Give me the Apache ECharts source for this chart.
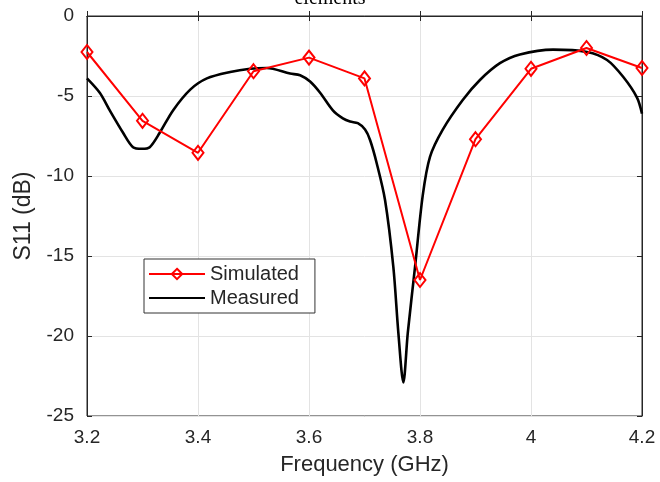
<!DOCTYPE html>
<html>
<head>
    <meta charset="UTF-8">
    <title>S11</title>
    <script src="https://cdn.jsdelivr.net/npm/echarts@6/dist/echarts.min.js"></script>
    <style>html,body{margin:0;padding:0;background:#fff;} #main{width:660px;height:482px;}</style>
</head>
<body>
<div id="main"></div>
<script>
    // simulated (red, with diamonds)
    var simFreq = [3.2, 3.3, 3.4, 3.5, 3.6, 3.7, 3.8, 3.9, 4.0, 4.1, 4.2];
    var simS11 = [-2.25, -6.55, -8.55, -3.45, -2.6, -3.9, -16.5, -7.7, -3.3, -2.0, -3.25];

    // measured (black, smooth)
    var measFreq = [3.200, 3.223, 3.241, 3.265, 3.283, 3.299, 3.313, 3.331, 3.355, 3.386, 3.416, 3.458, 3.494, 3.524, 3.566, 3.584, 3.602, 3.620, 3.643, 3.661, 3.674, 3.688, 3.701, 3.710, 3.722, 3.737, 3.752, 3.761, 3.770, 3.778, 3.791, 3.805, 3.818, 3.841, 3.877, 3.908, 3.944, 3.980, 4.040, 4.101, 4.137, 4.166, 4.191, 4.200];
    var measS11 = [-3.9, -4.8, -5.9, -7.3, -8.2, -8.3, -8.2, -7.3, -5.9, -4.6, -3.9, -3.5, -3.3, -3.25, -3.6, -3.7, -4.1, -4.8, -5.9, -6.4, -6.6, -6.7, -7.1, -7.75, -9.2, -11.5, -15.7, -19.8, -22.9, -19.8, -15.7, -11.2, -8.8, -7.1, -5.25, -4.0, -2.95, -2.4, -2.1, -2.25, -2.75, -3.8, -5.1, -6.1];

    var xTicks = [3.2, 3.4, 3.6, 3.8, 4.0, 4.2];
    var yTicks = [0, -5, -10, -15, -20, -25];

    function pairs(xs, ys) {
        var out = [];
        for (var i = 0; i < xs.length; i++) out.push([xs[i], ys[i]]);
        return out;
    }

    var axisColor = '#262626';
    var gridColor = '#e3e3e3';
    var labelFont = 'Liberation Sans, Arial, sans-serif';

    var myChart = echarts.init(document.getElementById('main'));
    var option = {
        animation: false,
        title: {
            text: 'elements',
            left: 'center',
            top: -11,
            padding: 0,
            textStyle: {fontFamily: 'Liberation Serif, Times New Roman, serif', fontWeight: 'normal', fontSize: 20, color: '#000'}
        },
        grid: {left: 87, right: 18, top: 16, bottom: 66, show: true, borderColor: axisColor, borderWidth: 1},
        legend: {
            left: 144, top: 259,
            orient: 'vertical',
            padding: [5, 16, 5, 4],
            itemGap: 4,
            itemWidth: 56,
            itemHeight: 13,
            backgroundColor: '#fff',
            borderColor: '#333',
            borderWidth: 1,
            borderRadius: 0,
            textStyle: {fontFamily: labelFont, fontSize: 20, color: '#262626'},
            data: ['Simulated', {name: 'Measured', itemStyle: {opacity: 0}}]
        },
        xAxis: [{
            type: 'value',
            min: 3.2, max: 4.2, interval: 0.2,
            name: 'Frequency (GHz)',
            nameLocation: 'middle',
            nameGap: 38,
            nameTextStyle: {fontFamily: labelFont, fontSize: 22, color: '#262626'},
            axisLine: {lineStyle: {color: axisColor, width: 1}},
            axisTick: {inside: true, length: 5, lineStyle: {color: axisColor}},
            axisLabel: {
                fontFamily: labelFont, fontSize: 19, color: '#262626', margin: 12,
                formatter: function (v) {
                    var r = Math.round(v * 10) / 10;
                    return xTicks.indexOf(r) >= 0 ? String(r) : '';
                }
            },
            splitLine: {show: true, lineStyle: {color: gridColor, width: 1}}
        }, {
            type: 'value', position: 'top',
            min: 3.2, max: 4.2, interval: 0.2,
            axisLine: {show: true, lineStyle: {color: axisColor}},
            axisTick: {inside: true, length: 5, lineStyle: {color: axisColor}},
            axisLabel: {show: false},
            splitLine: {show: false}
        }],
        yAxis: [{
            type: 'value',
            min: -25, max: 0, interval: 5,
            name: 'S11 (dB)',
            nameLocation: 'middle',
            nameGap: 52,
            nameTextStyle: {fontFamily: labelFont, fontSize: 23, color: '#262626'},
            axisLine: {show: true, lineStyle: {color: axisColor, width: 1}},
            axisTick: {show: true, inside: true, length: 5, lineStyle: {color: axisColor}},
            axisLabel: {
                fontFamily: labelFont, fontSize: 19, color: '#262626', margin: 13,
                formatter: function (v) { return yTicks.indexOf(v) >= 0 ? String(v) : ''; }
            },
            splitLine: {show: true, lineStyle: {color: gridColor, width: 1}}
        }, {
            type: 'value', position: 'right',
            min: -25, max: 0, interval: 5,
            axisLine: {show: true, lineStyle: {color: axisColor}},
            axisTick: {show: true, inside: true, length: 5, lineStyle: {color: axisColor}},
            axisLabel: {show: false},
            splitLine: {show: false}
        }],
        series: [{
            name: 'Measured',
            type: 'line',
            data: pairs(measFreq, measS11),
            smooth: 0.3,
            showSymbol: false,
            symbol: 'none',
            lineStyle: {color: '#000', width: 2.6},
            itemStyle: {color: '#000'},
            z: 2
        }, {
            name: 'Simulated',
            type: 'line',
            data: pairs(simFreq, simS11),
            symbol: 'diamond',
            symbolSize: [11, 14],
            lineStyle: {color: '#ff0000', width: 2},
            itemStyle: {color: 'rgba(255,255,255,0)', borderColor: '#ff0000', borderWidth: 2},
            z: 3
        }]
    };
    myChart.setOption(option);
</script>
</body>
</html>
